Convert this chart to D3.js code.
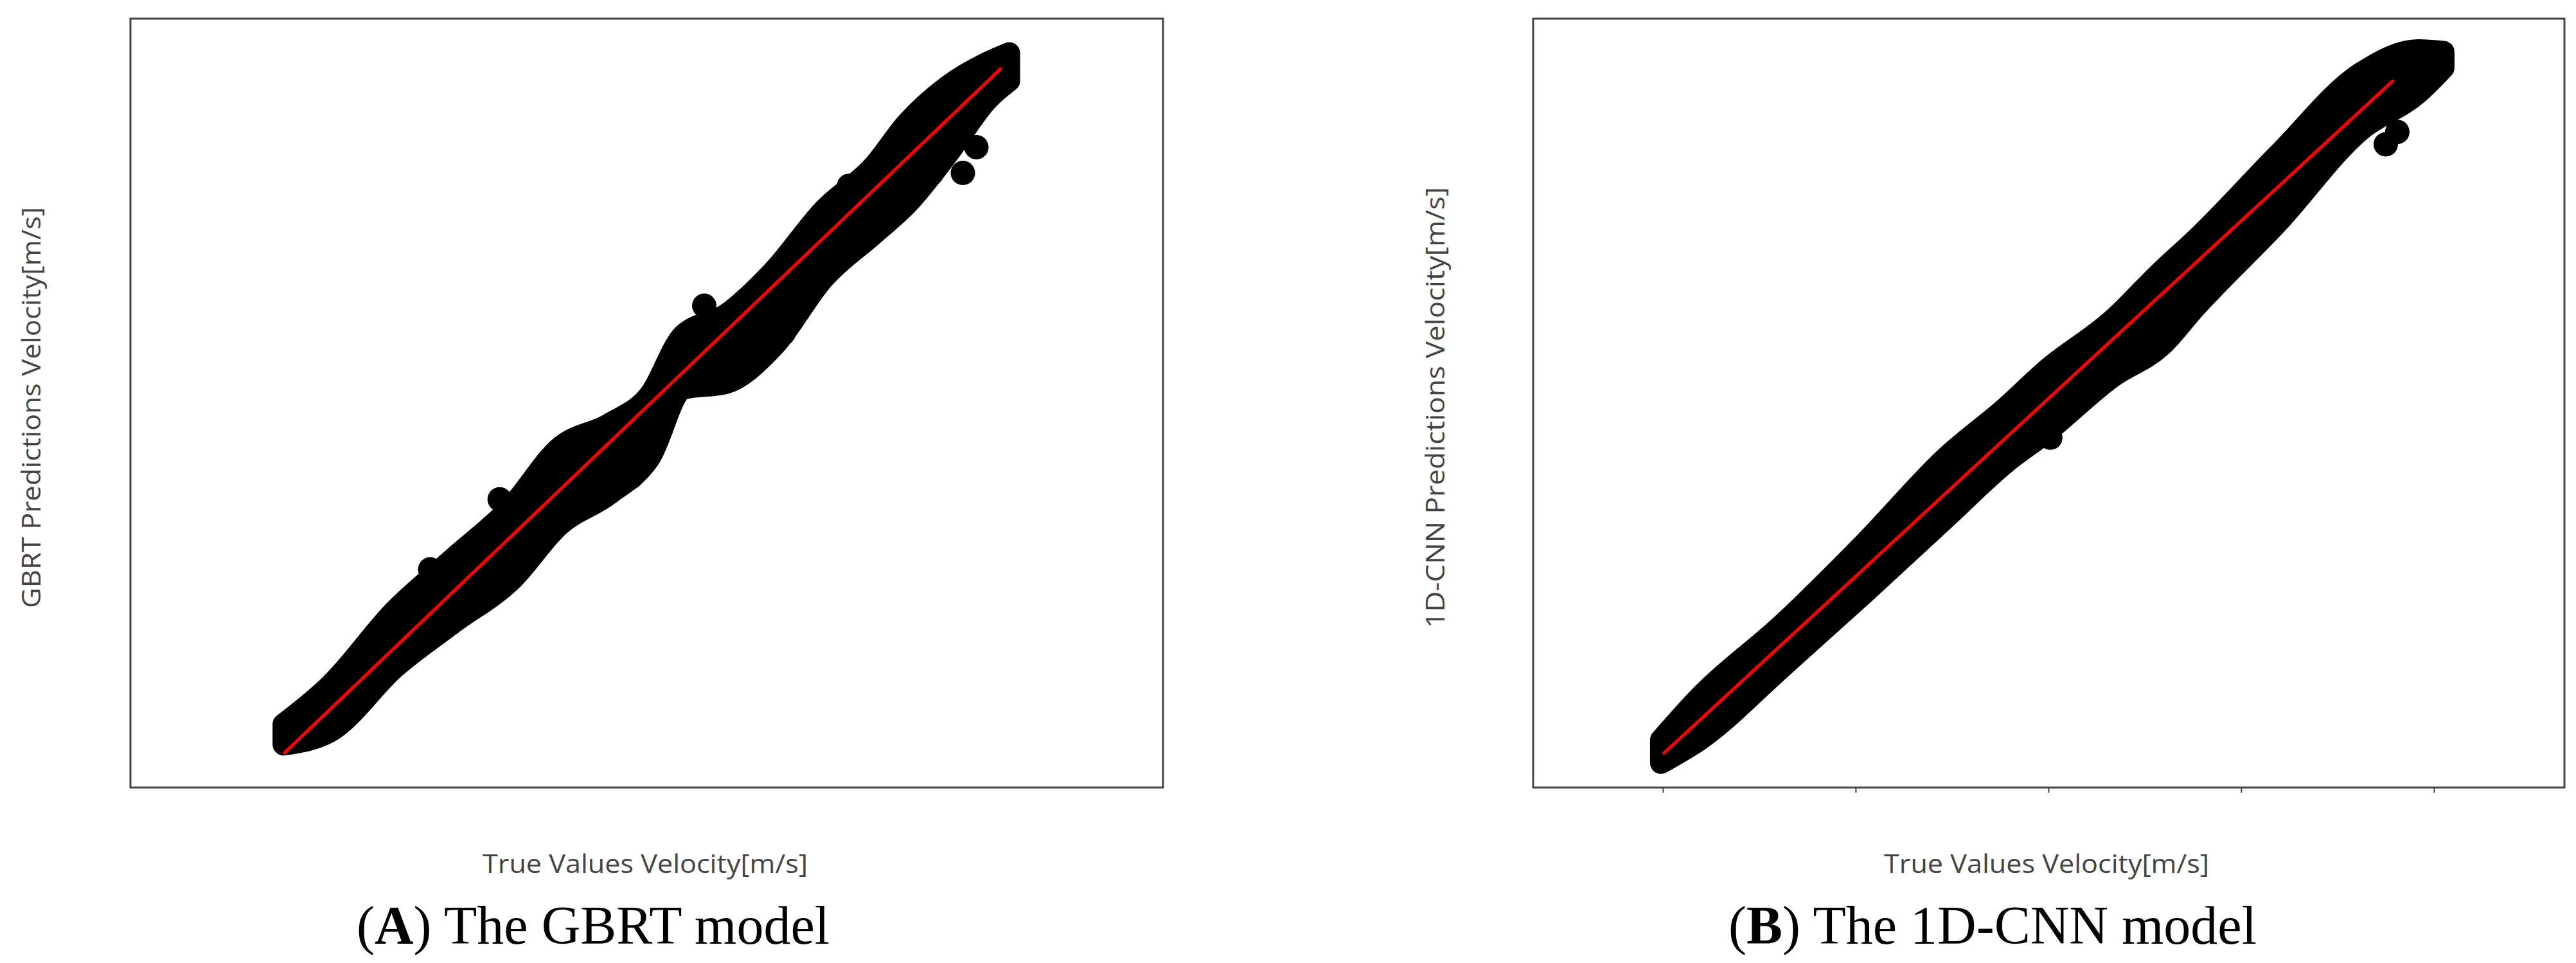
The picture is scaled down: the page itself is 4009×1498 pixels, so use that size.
<!DOCTYPE html>
<html>
<head>
<meta charset="utf-8">
<script src="https://cdn.jsdelivr.net/npm/d3@7.9.0/dist/d3.min.js"></script>
<style>
  body { margin: 0; background: #fff; }
  svg { display: block; }
</style>
</head>
<body>
<svg id="chart" width="4009" height="1498"></svg>
<script>
// GBRT panel: envelope of the point cloud (true value, lower pred, upper pred)
const gbrtTrue  = [0.12, 0.36, 0.70, 1.00, 1.30, 1.55, 1.81, 2.02, 2.19, 2.41, 2.66, 2.92, 3.18, 3.35, 3.56, 3.77, 3.88];
const gbrtUpper = [0.28, 0.49, 0.90, 1.18, 1.46, 1.78, 1.91, 2.07, 2.39, 2.50, 2.74, 3.07, 3.31, 3.54, 3.74, 3.87, 3.92];
const gbrtLower = [0.17, 0.24, 0.59, 0.83, 1.06, 1.36, 1.53, 1.73, 2.10, 2.13, 2.33, 2.70, 2.94, 3.10, 3.37, 3.67, 3.77];
const gbrtOutX  = [3.64, 3.71, 3.48, 2.71, 1.92, 1.24, 0.88, 2.30, 3.05];
const gbrtOutY  = [3.27, 3.41, 3.27, 2.40, 1.62, 1.50, 1.12, 2.55, 3.20];

// 1D-CNN panel
const cnnTrue  = [-0.01, 0.19, 0.62, 1.05, 1.47, 1.78, 1.99, 2.33, 2.59, 2.76, 3.19, 3.62, 3.92, 4.05];
const cnnUpper = [0.08, 0.32, 0.73, 1.19, 1.67, 1.95, 2.16, 2.44, 2.72, 2.89, 3.37, 3.83, 3.96, 3.95];
const cnnLower = [-0.05, 0.08, 0.49, 0.91, 1.33, 1.64, 1.81, 2.12, 2.30, 2.51, 2.99, 3.51, 3.72, 3.86];
const cnnOutX  = [3.75, 3.81, 2.01];
const cnnOutY  = [3.43, 3.50, 1.78];

const tickVals = [0, 1, 2, 3, 4];

const panels = [
  { left: 203, right: 1810, xDom: [-0.673, 4.677], yDom: [-0.063, 4.107],
    t: gbrtTrue, up: gbrtUpper, lo: gbrtLower, ox: gbrtOutX, oy: gbrtOutY,
    line: [0.12, 3.84], ticks: false,
    ylab: "GBRT Predictions Velocity[m/s]", ylabX: 47, ylabLen: 624, xlabX: 1004,
    capLetter: "A", capText: " The GBRT model", capX: 923 },
  { left: 2386, right: 3991, xDom: [-0.673, 4.677], yDom: [-0.188, 4.137],
    t: cnnTrue, up: cnnUpper, lo: cnnLower, ox: cnnOutX, oy: cnnOutY,
    line: [0, 3.79], ticks: true,
    ylab: "1D-CNN Predictions Velocity[m/s]", ylabX: 2232, ylabLen: 686, xlabX: 3185,
    capLetter: "B", capText: " The 1D-CNN model", capX: 3101 }
];

const svg = d3.select("#chart");
const plotTop = 29, plotBottom = 1225;

panels.forEach(p => {
  const x = d3.scaleLinear().domain(p.xDom).range([p.left, p.right]);
  const y = d3.scaleLinear().domain(p.yDom).range([plotBottom, plotTop]);
  const g = svg.append("g");

  const pts = p.t.map((v, i) => ({ t: v, up: p.up[i], lo: p.lo[i] }));
  // cloud of big markers: area of the envelope, stroked with the marker diameter
  g.append("path")
    .datum(pts)
    .attr("fill", "#000")
    .attr("stroke", "#000")
    .attr("stroke-width", 34)
    .attr("stroke-linejoin", "round")
    .attr("d", d3.area().curve(d3.curveMonotoneX)
      .x(d => x(d.t)).y0(d => y(d.lo)).y1(d => y(d.up)));

  p.ox.forEach((v, i) => {
    g.append("circle").attr("cx", x(v)).attr("cy", y(p.oy[i])).attr("r", 19).attr("fill", "#000");
  });

  g.append("line")
    .attr("x1", x(p.line[0])).attr("y1", y(p.line[0]))
    .attr("x2", x(p.line[1])).attr("y2", y(p.line[1]))
    .attr("stroke", "#ff0000").attr("stroke-width", 5);

  g.append("rect")
    .attr("x", p.left).attr("y", plotTop)
    .attr("width", p.right - p.left).attr("height", plotBottom - plotTop)
    .attr("fill", "none").attr("stroke", "#444").attr("stroke-width", 3);

  if (p.ticks) {
    const ax = g.append("g").attr("transform", `translate(0,${plotBottom})`)
      .call(d3.axisBottom(x).tickValues(tickVals).tickFormat("").tickSize(8).tickSizeOuter(0));
    ax.select(".domain").remove();
    ax.selectAll("line").attr("stroke", "#444").attr("stroke-width", 2);
  }

  g.append("text")
    .attr("x", p.xlabX).attr("y", 1358)
    .attr("text-anchor", "middle")
    .attr("font-family", "Open Sans, sans-serif").attr("font-size", 41)
    .attr("textLength", 506).attr("lengthAdjust", "spacingAndGlyphs")
    .attr("fill", "#444")
    .text("True Values Velocity[m/s]");

  g.append("text")
    .attr("transform", `translate(${p.ylabX},634) rotate(-90)`)
    .attr("text-anchor", "middle").attr("dominant-baseline", "central")
    .attr("font-family", "Open Sans, sans-serif").attr("font-size", 40)
    .attr("textLength", p.ylabLen).attr("lengthAdjust", "spacingAndGlyphs")
    .attr("fill", "#444")
    .text(p.ylab);

  const cap = g.append("text")
    .attr("x", p.capX).attr("y", 1468)
    .attr("text-anchor", "middle")
    .attr("font-family", "Liberation Serif, serif").attr("font-size", 84)
    .attr("fill", "#000");
  cap.append("tspan").text("(");
  cap.append("tspan").attr("font-weight", "bold").text(p.capLetter);
  cap.append("tspan").text(")" + p.capText);
});
</script>
</body>
</html>
